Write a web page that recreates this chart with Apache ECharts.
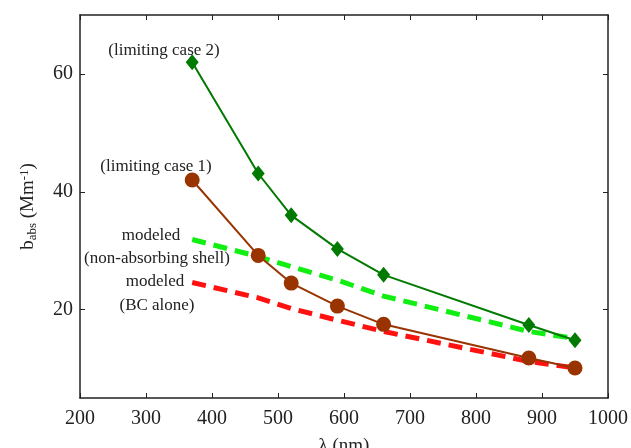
<!DOCTYPE html>
<html lang="en">
  <head>
    <meta charset="UTF-8" />
    <title>b_abs vs wavelength</title>
    <script src="https://cdn.jsdelivr.net/npm/echarts@6.0.0/dist/echarts.min.js"></script>
    <style>
      html, body { margin: 0; padding: 0; background: #fff; }
      #main { width: 631px; height: 448px; }
    </style>
  </head>
  <body>
    <div id="main"></div>
    <script>
      // wavelengths (nm)
      var lambda = [370, 470, 520, 590, 660, 880, 950];
      // measured, limiting cases
      var limCase2 = [62, 43.1, 36, 30.3, 25.9, 17.4, 14.8];
      var limCase1 = [42, 29.2, 24.5, 20.6, 17.5, 11.8, 10.1];
      // modeled
      var modShell = [31.9, 29.0, 27.3, 25.0, 22.3, 16.3, 15.1];
      var modBC = [24.6, 22.0, 20.2, 18.2, 16.3, 11.2, 10.1];
      var yTicks = [20, 40, 60];

      function pairs(ys) {
        return lambda.map(function (x, i) { return [x, ys[i]]; });
      }

      var font = "Liberation Serif";
      var ink = "#222";

      var chart = echarts.init(document.getElementById("main"));

      var baseX = {
        type: "value", min: 200, max: 1000, interval: 100,
        axisLine: { show: true, lineStyle: { color: ink, width: 1.5 } },
        axisTick: { show: true, inside: true, length: 5, lineStyle: { color: ink } },
        splitLine: { show: false }
      };
      var baseY = {
        type: "value", min: 5, max: 70,
        axisLine: { show: true, lineStyle: { color: ink, width: 1.5 } },
        axisTick: { show: true, inside: true, length: 5, customValues: yTicks, lineStyle: { color: ink } },
        splitLine: { show: false }
      };

      var option = {
        animation: false,
        grid: { left: 80, right: 23, top: 15, bottom: 50, outerBoundsMode: "none", containLabel: false },
        xAxis: [
          Object.assign({}, baseX, {
            position: "bottom",
            name: "λ (nm)",
            nameLocation: "middle",
            nameGap: 39,
            nameTextStyle: { fontFamily: font, fontSize: 19, color: ink },
            axisLabel: {
              fontFamily: font, fontSize: 20, color: ink, margin: 11,
              formatter: function (v) { return String(v); }
            }
          }),
          Object.assign({}, baseX, { position: "top", axisLabel: { show: false } })
        ],
        yAxis: [
          Object.assign({}, baseY, {
            position: "left",
            name: "{b|b}{s|abs}{b| (Mm}{p|-1}{b|)}",
            nameLocation: "middle",
            nameGap: 41,
            nameTextStyle: {
              rich: {
                b: { fontFamily: font, fontSize: 19, color: ink },
                s: { fontFamily: font, fontSize: 13, color: ink, verticalAlign: "bottom", padding: [8, 0, 0, 0] },
                p: { fontFamily: font, fontSize: 13, color: ink, verticalAlign: "top", padding: [0, 0, 8, 0] }
              }
            },
            axisLabel: { fontFamily: font, fontSize: 20, color: ink, margin: 7, customValues: yTicks }
          }),
          Object.assign({}, baseY, { position: "right", axisLabel: { show: false } })
        ],
        series: [
          {
            type: "line", data: pairs(modShell), symbol: "none",
            lineStyle: { color: "#11ee11", width: 5, type: [14, 8] }, z: 2
          },
          {
            type: "line", data: pairs(modBC), symbol: "none",
            lineStyle: { color: "#ff1111", width: 5, type: [14, 8] }, z: 2
          },
          {
            type: "line", data: pairs(limCase2), symbol: "diamond", symbolSize: [13, 16],
            itemStyle: { color: "#007a00" }, lineStyle: { color: "#007a00", width: 2 }, z: 3
          },
          {
            type: "line", data: pairs(limCase1), symbol: "circle", symbolSize: 15,
            itemStyle: { color: "#993300" }, lineStyle: { color: "#993300", width: 2 }, z: 3
          }
        ],
        graphic: [
          { type: "text", x: 164, y: 51, style: { text: "(limiting case 2)", font: "17px " + font, fill: ink, align: "center", verticalAlign: "middle" } },
          { type: "text", x: 156, y: 167, style: { text: "(limiting case 1)", font: "17px " + font, fill: ink, align: "center", verticalAlign: "middle" } },
          { type: "text", x: 151, y: 236, style: { text: "modeled", font: "17px " + font, fill: ink, align: "center", verticalAlign: "middle" } },
          { type: "text", x: 157, y: 259, style: { text: "(non-absorbing shell)", font: "17px " + font, fill: ink, align: "center", verticalAlign: "middle" } },
          { type: "text", x: 155, y: 282, style: { text: "modeled", font: "17px " + font, fill: ink, align: "center", verticalAlign: "middle" } },
          { type: "text", x: 157, y: 306, style: { text: "(BC alone)", font: "17px " + font, fill: ink, align: "center", verticalAlign: "middle" } }
        ]
      };
      chart.setOption(option);
    </script>
  </body>
</html>
